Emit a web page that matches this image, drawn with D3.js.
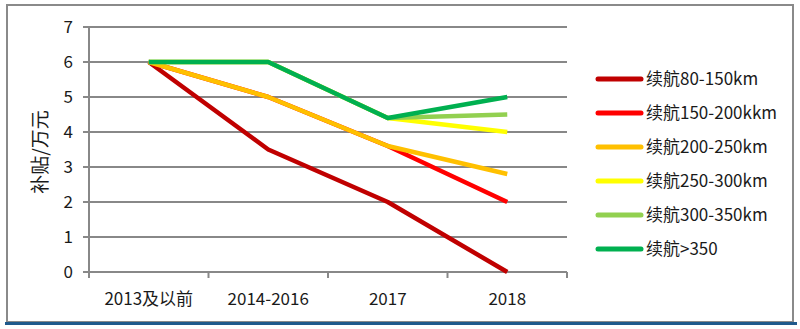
<!DOCTYPE html>
<html>
<head>
<meta charset="utf-8">
<script src="https://cdn.jsdelivr.net/npm/d3@7/dist/d3.min.js"></script>
<style>
  html, body { margin: 0; padding: 0; background: #fff; }
  svg { display: block; }
  text { font-family: "Noto Sans CJK SC", "Noto Sans", sans-serif; fill: #1a1a1a; }
</style>
</head>
<body>
<svg id="chart" width="800" height="329"></svg>
<script>
// Categories on the x axis
const categories = ["2013及以前", "2014-2016", "2017", "2018"];

// Subsidy (万元) per driving-range band
const range80_150  = [6, 3.5, 2.0, 0];
const range150_200 = [6, 5.0, 3.6, 2.0];
const range200_250 = [6, 5.0, 3.6, 2.8];
const range250_300 = [6, 6.0, 4.4, 4.0];
const range300_350 = [6, 6.0, 4.4, 4.5];
const range350up   = [6, 6.0, 4.4, 5.0];

const seriesNames  = ["续航80-150km", "续航150-200kkm", "续航200-250km", "续航250-300km", "续航300-350km", "续航>350"];
const seriesValues = [range80_150, range150_200, range200_250, range250_300, range300_350, range350up];
const seriesColors = ["#C00000", "#FF0000", "#FFC000", "#FFFF00", "#92D050", "#00B050"];

const yTicks = [0, 1, 2, 3, 4, 5, 6, 7];
const yTitle = "补贴/万元";

const svg = d3.select("#chart");

// outer frame
svg.append("rect")
  .attr("x", 7).attr("y", 5).attr("width", 786).attr("height", 317)
  .attr("fill", "#fff").attr("stroke", "#8a8a8a").attr("stroke-width", 2);
svg.append("line")
  .attr("x1", 5).attr("x2", 797).attr("y1", 323.5).attr("y2", 323.5)
  .attr("stroke", "#1f5a8c").attr("stroke-width", 3);

const plot = { left: 89, right: 567, top: 27, bottom: 272 };

const x = d3.scaleBand().domain(categories).range([plot.left, plot.right]);
const y = d3.scaleLinear().domain([0, 7]).range([plot.bottom, plot.top]);

// horizontal gridlines
svg.append("g")
  .selectAll("line")
  .data(yTicks)
  .join("line")
  .attr("x1", plot.left - 6).attr("x2", plot.right)
  .attr("y1", d => y(d)).attr("y2", d => y(d))
  .attr("stroke", "#888").attr("stroke-width", 2);

// y axis line
svg.append("line")
  .attr("x1", plot.left).attr("x2", plot.left)
  .attr("y1", y(7)).attr("y2", y(0))
  .attr("stroke", "#888").attr("stroke-width", 2);

// x axis ticks at category boundaries
const boundaries = categories.map(c => x(c)).concat([plot.right]);
svg.append("g")
  .selectAll("line")
  .data(boundaries)
  .join("line")
  .attr("x1", d => d).attr("x2", d => d)
  .attr("y1", plot.bottom).attr("y2", plot.bottom + 6)
  .attr("stroke", "#888").attr("stroke-width", 2);

// y tick labels
svg.append("g")
  .selectAll("text")
  .data(yTicks)
  .join("text")
  .attr("x", 73).attr("y", d => y(d))
  .attr("dy", "0.35em")
  .attr("text-anchor", "end")
  .attr("font-size", 17)
  .text(d => d);

// x tick labels
svg.append("g")
  .selectAll("text")
  .data(categories)
  .join("text")
  .attr("x", d => x(d) + x.bandwidth() / 2)
  .attr("y", 305)
  .attr("text-anchor", "middle")
  .attr("font-size", 17)
  .text(d => d);

// y axis title
svg.append("text")
  .attr("transform", "translate(47,152) rotate(-90)")
  .attr("text-anchor", "middle")
  .attr("font-size", 19)
  .text(yTitle);

// series lines
const line = d3.line()
  .x((d, i) => x(categories[i]) + x.bandwidth() / 2)
  .y(d => y(d));

svg.append("g")
  .selectAll("path")
  .data(seriesValues)
  .join("path")
  .attr("d", d => line(d))
  .attr("fill", "none")
  .attr("stroke", (d, i) => seriesColors[i])
  .attr("stroke-width", 4.5)
  .attr("stroke-linejoin", "round");

// legend
const legend = svg.append("g")
  .selectAll("g")
  .data(seriesNames)
  .join("g")
  .attr("transform", (d, i) => `translate(598,${79 + i * 34})`);
legend.append("line")
  .attr("x1", 0).attr("x2", 43).attr("y1", 0).attr("y2", 0)
  .attr("stroke", (d, i) => seriesColors[i])
  .attr("stroke-width", 5)
  .attr("stroke-linecap", "round");
legend.append("text")
  .attr("x", 48).attr("y", 0).attr("dy", "0.35em")
  .attr("font-size", 17)
  .text(d => d);
</script>
</body>
</html>
